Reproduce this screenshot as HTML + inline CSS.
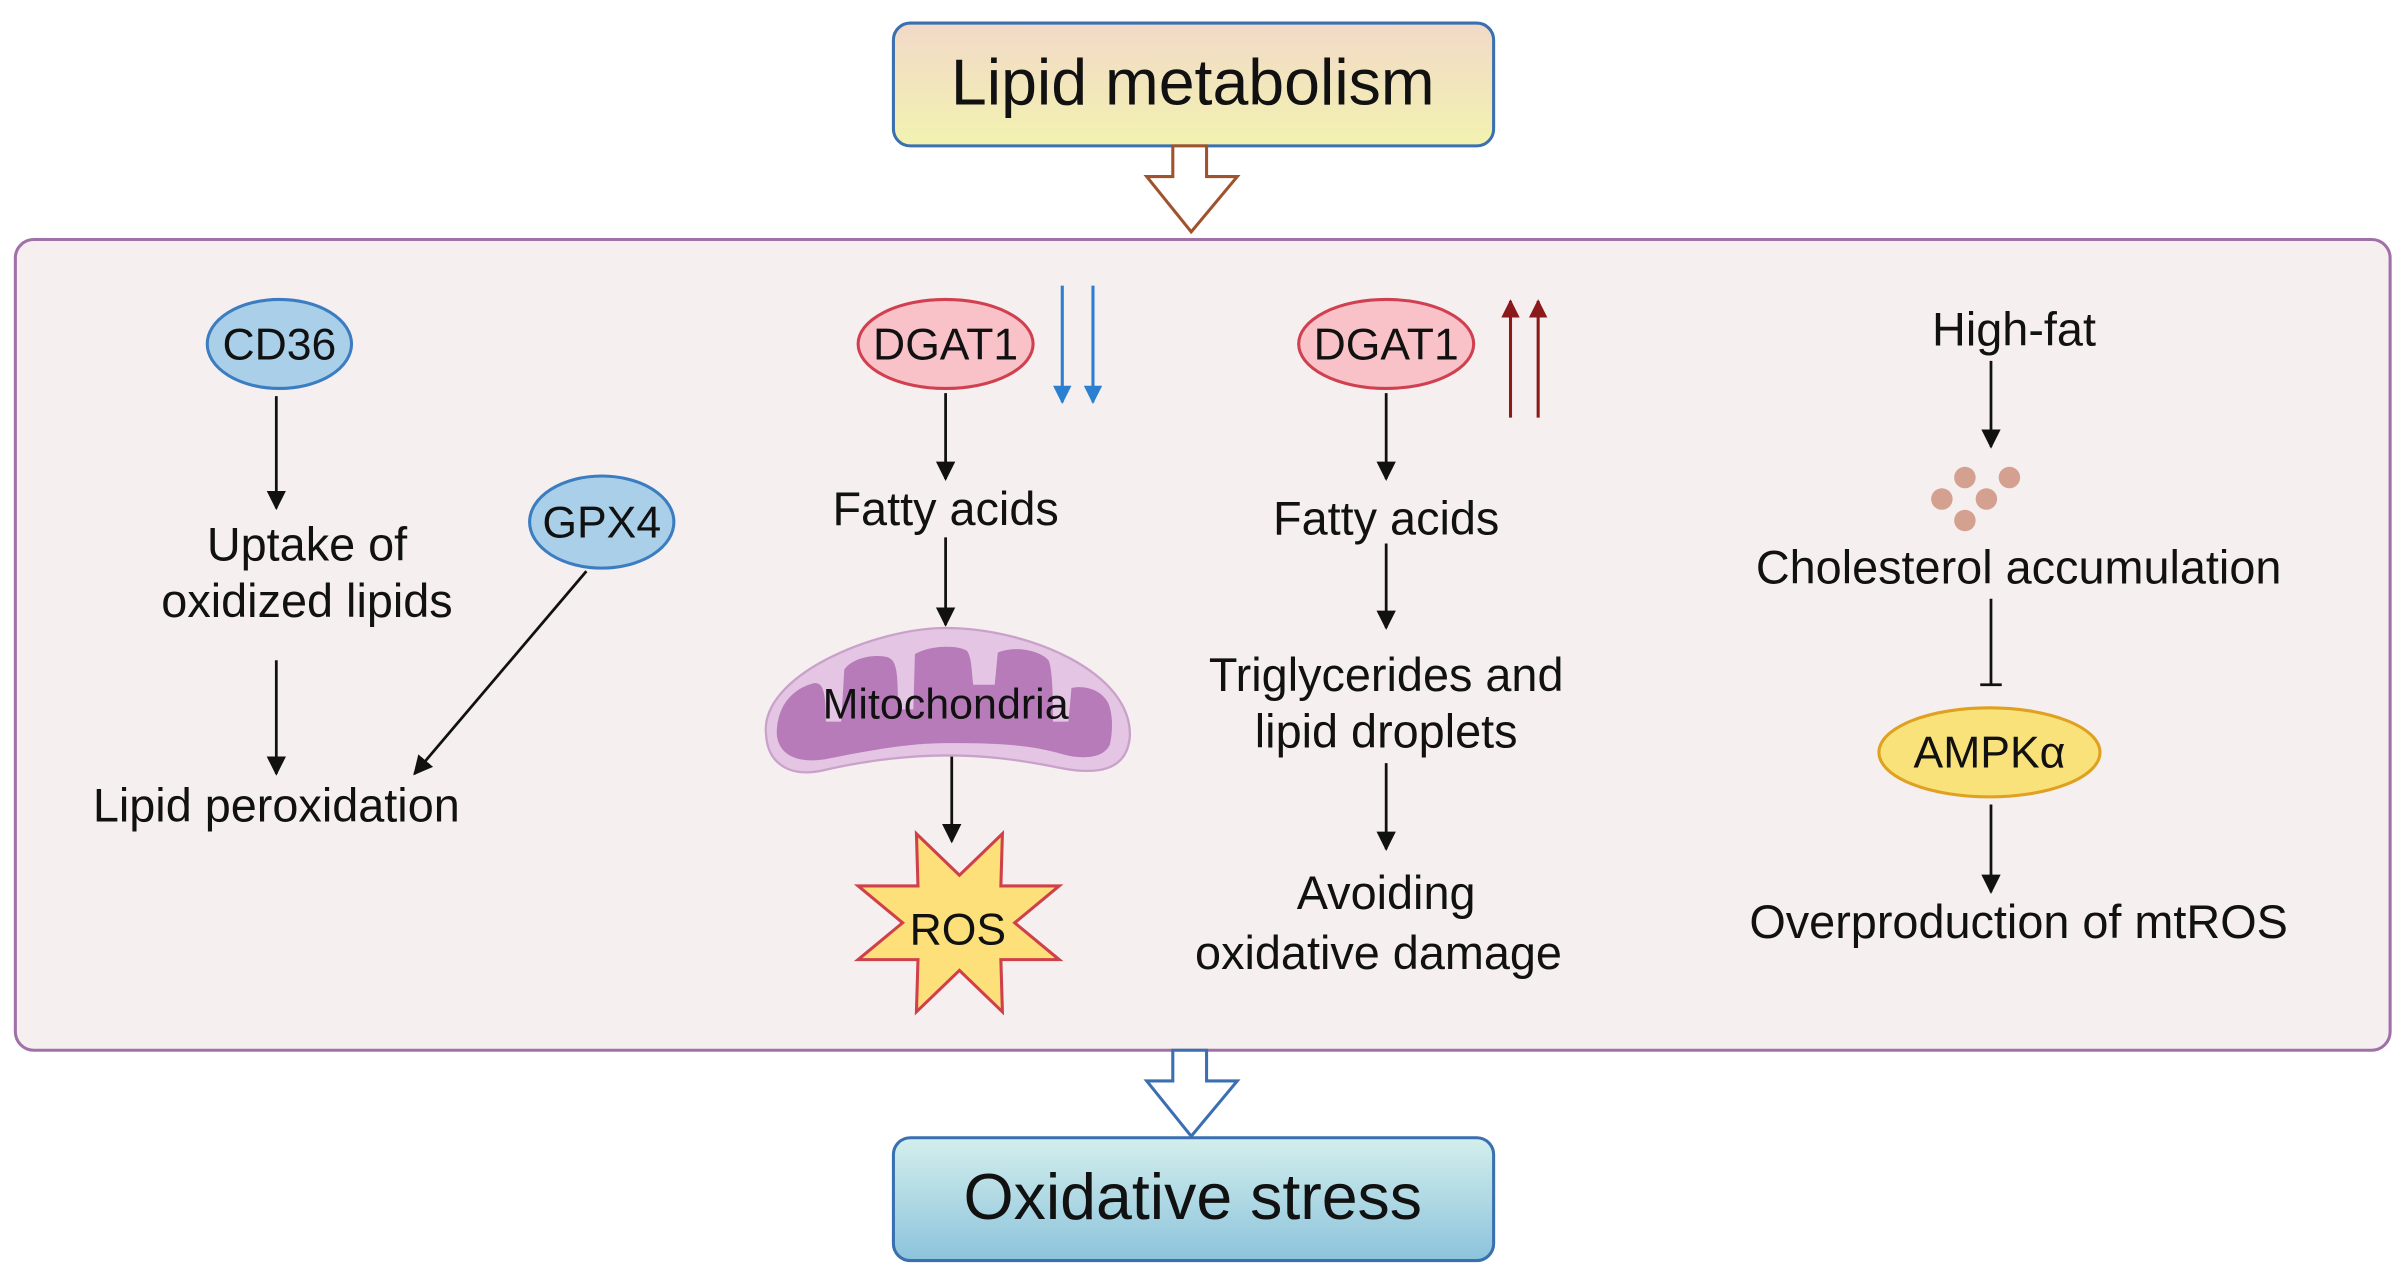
<!DOCTYPE html>
<html><head><meta charset="utf-8"><style>
html,body{margin:0;padding:0;background:#fff;}
svg{display:block;}
text{font-family:"Liberation Sans",Arial,sans-serif;fill:#111;}
</style></head><body>
<svg width="2407" height="1279" viewBox="0 0 1568 833" preserveAspectRatio="none" xmlns="http://www.w3.org/2000/svg">
<defs>
<linearGradient id="g1" x1="0" y1="0" x2="0" y2="1"><stop offset="0" stop-color="#f2d9c8"/><stop offset="1" stop-color="#f2f2b0"/></linearGradient>
<linearGradient id="g2" x1="0" y1="0" x2="0" y2="1"><stop offset="0" stop-color="#d3efec"/><stop offset="1" stop-color="#8cc3dc"/></linearGradient>
<marker id="ah" viewBox="0 0 10 10" refX="9" refY="5" markerWidth="7" markerHeight="7" orient="auto"><path d="M0,0 L10,5 L0,10 z" fill="#111"/></marker>
<marker id="ab" viewBox="0 0 10 10" refX="9" refY="5" markerWidth="6" markerHeight="6" orient="auto"><path d="M0,0 L10,5 L0,10 z" fill="#2a7fd0"/></marker>
<marker id="ar" viewBox="0 0 10 10" refX="9" refY="5" markerWidth="6" markerHeight="6" orient="auto"><path d="M0,0 L10,5 L0,10 z" fill="#8b1a1a"/></marker>
</defs>
<rect x="0" y="0" width="1568" height="833" fill="#fff"/>
<rect x="582" y="15" width="391" height="80" rx="11" fill="url(#g1)" stroke="#3a6fb0" stroke-width="2"/>
<text x="777" y="68" font-size="42" text-anchor="middle">Lipid metabolism</text>
<path d="M764,95 L786,95 L786,115 L806,115 L776,151 L747,115 L764,115 Z" fill="#fff" stroke="#a0522d" stroke-width="2"/>
<rect x="10" y="156" width="1547" height="528" rx="12" fill="#f5f0ef" stroke="#a070a8" stroke-width="2"/>
<path d="M764,684 L786,684 L786,704 L806,704 L776,740 L747,704 L764,704 Z" fill="#fff" stroke="#3a6fb0" stroke-width="2"/>
<rect x="582" y="741" width="391" height="80" rx="11" fill="url(#g2)" stroke="#3a6fb0" stroke-width="2"/>
<text x="777" y="794" font-size="42" text-anchor="middle">Oxidative stress</text>

<g stroke="#111" stroke-width="1.8" fill="none" marker-end="url(#ah)">
<line x1="180" y1="258" x2="180" y2="331"/>
<line x1="180" y1="430" x2="180" y2="504"/>
<line x1="382" y1="372" x2="270" y2="504"/>
<line x1="616" y1="256" x2="616" y2="312"/>
<line x1="616" y1="350" x2="616" y2="407"/>
<line x1="620" y1="492" x2="620" y2="548"/>
<line x1="903" y1="256" x2="903" y2="312"/>
<line x1="903" y1="354" x2="903" y2="409"/>
<line x1="903" y1="497" x2="903" y2="553"/>
<line x1="1297" y1="235" x2="1297" y2="291"/>
<line x1="1297" y1="524" x2="1297" y2="581"/>
</g>
<line x1="1297" y1="390" x2="1297" y2="446" stroke="#111" stroke-width="1.8"/>
<line x1="1290" y1="446" x2="1304" y2="446" stroke="#111" stroke-width="1.8"/>
<g stroke-width="2" marker-end="url(#ab)" stroke="#2a7fd0"><line x1="692" y1="186" x2="692" y2="262"/><line x1="712" y1="186" x2="712" y2="262"/></g>
<g stroke-width="2" marker-end="url(#ar)" stroke="#8b1a1a"><line x1="984" y1="272" x2="984" y2="196"/><line x1="1002" y1="272" x2="1002" y2="196"/></g>

<ellipse cx="182" cy="224" rx="47" ry="29" fill="#a9cfe9" stroke="#3c7cc0" stroke-width="2"/>
<text x="182" y="234" font-size="29" text-anchor="middle">CD36</text>
<text x="200" y="365" font-size="30.5" text-anchor="middle">Uptake of</text>
<text x="200" y="402" font-size="30.5" text-anchor="middle">oxidized lipids</text>
<text x="180" y="535" font-size="30.5" text-anchor="middle">Lipid peroxidation</text>
<ellipse cx="392" cy="340" rx="47" ry="30" fill="#a9cfe9" stroke="#3c7cc0" stroke-width="2"/>
<text x="392" y="350" font-size="29" text-anchor="middle">GPX4</text>

<ellipse cx="616" cy="224" rx="57" ry="29" fill="#f8c2c8" stroke="#d04050" stroke-width="2"/>
<text x="616" y="234" font-size="29" text-anchor="middle">DGAT1</text>
<text x="616" y="342" font-size="30.5" text-anchor="middle">Fatty acids</text>
<path d="M499,478 C495,440 570,409 616,409 C670,409 738,438 736,480 C734,502 715,505 690,500 C660,494 640,492 616,492 C590,492 560,496 535,502 C515,506 500,498 499,478 Z" fill="#e4c6e4" stroke="#c9a2c9" stroke-width="1.5"/>
<path d="M506,478 C506,458 518,448 530,445 C536,444 538,450 538,470 L548,470 L550,436 C556,428 570,426 578,428 C584,430 585,436 585,462 L595,462 L596,426 C606,420 625,420 630,424 C633,428 633,438 634,446 L648,446 L650,425 C662,420 678,424 683,430 C686,436 686,460 686,470 L696,470 L698,448 C708,446 718,450 722,458 C725,465 725,476 723,485 C718,496 700,494 688,490 C665,484 640,484 616,484 C590,484 560,490 540,494 C520,498 507,492 506,478 Z" fill="#b67bb8"/>
<text x="616" y="468" font-size="28" text-anchor="middle">Mitochondria</text>
<polygon points="597,543 625,570 653,543 652,577 690,577 661,601 690,625 652,625 653,659 625,632 597,659 598,625 559,625 588,601 559,577 598,577" fill="#fde07a" stroke="#d0404a" stroke-width="2"/>
<text x="624" y="615" font-size="29" text-anchor="middle">ROS</text>

<ellipse cx="903" cy="224" rx="57" ry="29" fill="#f8c2c8" stroke="#d04050" stroke-width="2"/>
<text x="903" y="234" font-size="29" text-anchor="middle">DGAT1</text>
<text x="903" y="348" font-size="30.5" text-anchor="middle">Fatty acids</text>
<text x="903" y="450" font-size="30.5" text-anchor="middle">Triglycerides and</text>
<text x="903" y="487" font-size="30.5" text-anchor="middle">lipid droplets</text>
<text x="903" y="592" font-size="30.5" text-anchor="middle">Avoiding</text>
<text x="898" y="631" font-size="30.5" text-anchor="middle">oxidative damage</text>

<text x="1312" y="225" font-size="30.5" text-anchor="middle">High-fat</text>
<g fill="#d4a090"><circle cx="1280" cy="311" r="7"/><circle cx="1309" cy="311" r="7"/><circle cx="1265" cy="325" r="7"/><circle cx="1294" cy="325" r="7"/><circle cx="1280" cy="339" r="7"/></g>
<text x="1315" y="380" font-size="30.5" text-anchor="middle">Cholesterol accumulation</text>
<ellipse cx="1296" cy="490" rx="72" ry="29" fill="#f9e27a" stroke="#e0a020" stroke-width="2"/>
<text x="1296" y="500" font-size="29" text-anchor="middle">AMPKα</text>
<text x="1315" y="611" font-size="30.5" text-anchor="middle">Overproduction of mtROS</text>
</svg>
</body></html>
